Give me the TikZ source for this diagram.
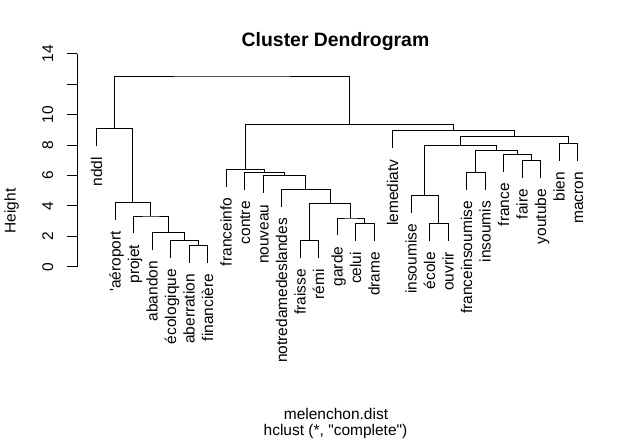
\documentclass[tikz,border=0pt]{standalone}
\usepackage{fontspec}
\setmainfont{Liberation Sans}[Ligatures=TeXOff]
\begin{document}
\begin{tikzpicture}[x=1pt,y=-1pt,line width=0.9pt,
  lab/.style={rotate=90,inner sep=0pt,text height=11.1pt,text depth=0pt,font=\fontsize{15.5}{18}\selectfont},
  leaflab/.style={lab,anchor=east},
  ticklab/.style={lab,anchor=center},
  branch/.style={draw=black,line width=0.9pt}]
\useasboundingbox (0,0) rectangle (635,442);
% leaves
\foreach \i/\x/\y/\lbl in {
  1/96.5/145.6/nddl,
  2/115/219.6/'aéroport,
  3/133.5/233.3/projet,
  4/152/249.6/abandon,
  5/170.5/257.6/écologique,
  6/189/262.6/aberration,
  7/207.5/262.6/financière,
  8/226/186.5/franceinfo,
  9/244.5/189.8/contre,
  10/263/193/nouveau,
  11/281.5/206.6/notredamedeslandes,
  12/300/257.6/fraisse,
  13/318.5/257.6/rémi,
  14/337/235.3/garde,
  15/355.5/240.6/celui,
  16/374/240.6/drame,
  17/392.5/148/lemediatv,
  18/411/212.6/insoumise,
  19/429.5/240.6/école,
  20/448/240.6/ouvrir,
  21/466.5/189.6/franceinsoumise,
  22/485/189.6/insoumis,
  23/503.5/171.6/france,
  24/522/177.6/faire,
  25/540.5/177.6/youtube,
  26/559/160.6/bien,
  27/577.5/160.6/macron}{
  \coordinate (l\i) at (\x,\y);
  \node[leaflab] (t\i) at (\x,\y+11) {\lbl};
}
% merge points
\coordinate (mE) at (198.25,245.3);
\coordinate (mD) at (184.375,240.3);
\coordinate (mC) at (168.19,232.3);
\coordinate (mB) at (150.84,216);
\coordinate (mA) at (132.92,202.3);
\coordinate (mZ) at (114.71,128.3);
\coordinate (mM) at (364.75,223.3);
\coordinate (mL) at (350.875,218);
\coordinate (mK) at (309.25,240.3);
\coordinate (mJ) at (330.06,203.7);
\coordinate (mI) at (305.78,189.3);
\coordinate (mH) at (284.39,175.7);
\coordinate (mG) at (264.45,172.5);
\coordinate (mF) at (245.22,169.2);
\coordinate (mU) at (438.75,223.3);
\coordinate (mS) at (424.875,195.3);
\coordinate (mV) at (475.75,172.3);
\coordinate (mX) at (531.25,160.3);
\coordinate (mW) at (517.375,154.3);
\coordinate (mT) at (496.56,150.3);
\coordinate (mQ) at (460.72,145.3);
\coordinate (mR) at (568.25,143.3);
\coordinate (mP) at (514.48,136.7);
\coordinate (mO) at (453.49,130.7);
\coordinate (mN) at (349.36,124.2);
\coordinate (mTop) at (232.03,76);
% branches
\draw[branch] (l6) |- (mE) -| (l7);
\draw[branch] (l5) |- (mD) -| (mE);
\draw[branch] (l4) |- (mC) -| (mD);
\draw[branch] (l3) |- (mB) -| (mC);
\draw[branch] (l2) |- (mA) -| (mB);
\draw[branch] (l1) |- (mZ) -| (mA);
\draw[branch] (l15) |- (mM) -| (l16);
\draw[branch] (l14) |- (mL) -| (mM);
\draw[branch] (l12) |- (mK) -| (l13);
\draw[branch] (mK) |- (mJ) -| (mL);
\draw[branch] (l11) |- (mI) -| (mJ);
\draw[branch] (l10) |- (mH) -| (mI);
\draw[branch] (l9) |- (mG) -| (mH);
\draw[branch] (l8) |- (mF) -| (mG);
\draw[branch] (l19) |- (mU) -| (l20);
\draw[branch] (l18) |- (mS) -| (mU);
\draw[branch] (l21) |- (mV) -| (l22);
\draw[branch] (l24) |- (mX) -| (l25);
\draw[branch] (l23) |- (mW) -| (mX);
\draw[branch] (mV) |- (mT) -| (mW);
\draw[branch] (mS) |- (mQ) -| (mT);
\draw[branch] (l26) |- (mR) -| (l27);
\draw[branch] (mQ) |- (mP) -| (mR);
\draw[branch] (l17) |- (mO) -| (mP);
\draw[branch] (mF) |- (mN) -| (mO);
\draw[branch] (mZ) |- (mTop) -| (mN);
% axis
\draw (77,53.7) -- (77,266.7);
\foreach \v in {0,2,...,14}{
  \draw (77,266.7-\v*15.214) -- (67,266.7-\v*15.214);
}
\foreach \v in {0,2,4,6,8,10,14}{
  \node[ticklab] (y\v) at (47.5,266.7-\v*15.214) {\v};
}
\node[lab,anchor=center] (ylab) at (10,211) {Height};
% titles
\node[inner sep=0pt,anchor=base,font=\fontsize{19.4}{23}\selectfont\bfseries] (title) at (335.5,46) {Cluster Dendrogram};
\node[inner sep=0pt,anchor=base,font=\fontsize{15.5}{18}\selectfont] (xlab) at (336,419) {melenchon.dist};
\node[inner sep=0pt,anchor=base,font=\fontsize{15.5}{18}\selectfont] (sub) at (335.5,435.5) {hclust (*, "complete")};
\end{tikzpicture}
\end{document}
